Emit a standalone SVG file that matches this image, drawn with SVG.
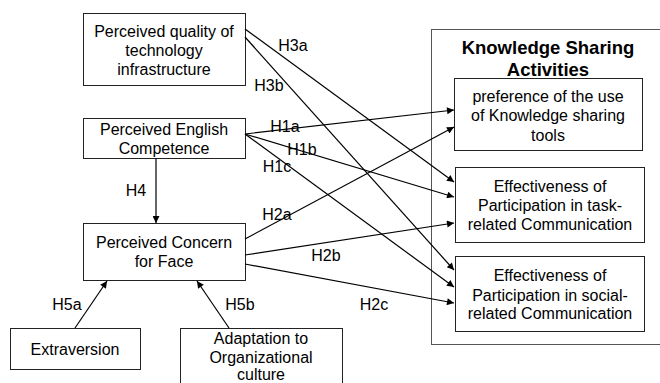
<svg xmlns="http://www.w3.org/2000/svg" width="660" height="383" viewBox="0 0 660 383">
<defs>
<marker id="ah" viewBox="0 0 10 10" refX="10" refY="5" markerWidth="9" markerHeight="7" markerUnits="userSpaceOnUse" orient="auto">
<path d="M0,0 L10,5 L0,10 z" fill="#000"/>
</marker>
</defs>
<style>
text{font-family:"Liberation Sans",Arial,sans-serif;font-size:16px;fill:#000;text-anchor:middle}
.b{fill:#fff;stroke:#222;stroke-width:1}
.g{fill:#fff;stroke:#555;stroke-width:1}
.t{font-weight:bold;font-size:18.5px}
.c line{stroke:#000;stroke-width:1.2;marker-end:url(#ah)}
</style>
<rect width="660" height="383" fill="#fff"/>
<g id="ks">
<rect class="g" x="431.5" y="29.5" width="240" height="315"/>
<text class="t" x="548" y="54">Knowledge Sharing</text>
<text class="t" x="548" y="76">Activities</text>
</g>
<g id="n1">
<rect class="b" x="83.5" y="13.5" width="162" height="72"/>
<text x="164" y="37">Perceived quality of</text>
<text x="164" y="56">technology</text>
<text x="164" y="75">infrastructure</text>
</g>
<g id="n2">
<rect class="b" x="83.5" y="118.5" width="162" height="40"/>
<text x="164" y="135">Perceived English</text>
<text x="164" y="154">Competence</text>
</g>
<g id="n3">
<rect class="b" x="83.5" y="223.5" width="162" height="57"/>
<text x="164" y="248">Perceived Concern</text>
<text x="164" y="267">for Face</text>
</g>
<g id="n4">
<rect class="b" x="10.5" y="328.5" width="130" height="41"/>
<text x="75" y="355">Extraversion</text>
</g>
<g id="n5">
<rect class="b" x="180.5" y="328.5" width="162" height="70"/>
<text x="261" y="344">Adaptation to</text>
<text x="261" y="363">Organizational</text>
<text x="261" y="380">culture</text>
</g>
<g id="k1">
<rect class="b" x="454.5" y="78.5" width="188" height="72"/>
<text x="548" y="102">preference of the use</text>
<text x="548" y="121">of Knowledge sharing</text>
<text x="548" y="141">tools</text>
</g>
<g id="k2">
<rect class="b" x="455.5" y="167.5" width="189" height="75"/>
<text x="550" y="192">Effectiveness of</text>
<text x="550" y="211">Participation in task-</text>
<text x="550" y="230">related Communication</text>
</g>
<g id="k3">
<rect class="b" x="455.5" y="256.5" width="189" height="75"/>
<text x="550" y="281">Effectiveness of</text>
<text x="550" y="301">Participation in social-</text>
<text x="550" y="319">related Communication</text>
</g>
<g id="connectors" class="c">
<line x1="245" y1="29" x2="454" y2="182"/>
<line x1="245" y1="37" x2="454" y2="270"/>
<line x1="245" y1="134" x2="454" y2="110"/>
<line x1="245" y1="134" x2="454" y2="197"/>
<line x1="245" y1="134" x2="454" y2="287"/>
<line x1="156" y1="158" x2="156" y2="223"/>
<line x1="245" y1="239" x2="454" y2="127"/>
<line x1="245" y1="255" x2="454" y2="223"/>
<line x1="245" y1="264" x2="454" y2="303"/>
<line x1="75" y1="328" x2="107" y2="281"/>
<line x1="229" y1="328" x2="197" y2="281"/>
</g>
<g id="labels">
<text x="293" y="51">H3a</text>
<text x="269" y="91">H3b</text>
<text x="285" y="132">H1a</text>
<text x="302" y="155">H1b</text>
<text x="277" y="172">H1c</text>
<text x="136" y="196">H4</text>
<text x="277" y="220">H2a</text>
<text x="326" y="261">H2b</text>
<text x="374" y="310">H2c</text>
<text x="67" y="310">H5a</text>
<text x="240" y="310">H5b</text>
</g>
</svg>
